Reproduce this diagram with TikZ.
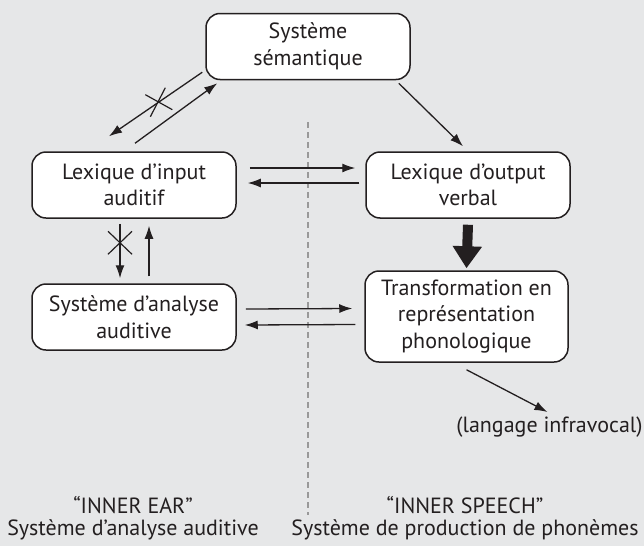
\documentclass[tikz,border=0pt]{standalone}
\usepackage{fontspec}
\setmainfont{PT Sans}
\usetikzlibrary{arrows.meta}
\definecolor{bg}{HTML}{E6E7E8}
\definecolor{ink}{HTML}{231F20}
\begin{document}
\begin{tikzpicture}[x=1pt, y=-1pt, font=\fontsize{22}{26.5}\selectfont, color=ink,
  box/.style = {shape=rectangle, rounded corners=14pt,
    draw, line width=1.5pt, align=center, fill=white,
    minimum width=204pt, minimum height=66pt, inner sep=0pt}]
    \tikzstyle{arr}=[line width=1.3pt, -{Latex[length=13pt,width=9pt]}]
    \tikzstyle{bar}=[line width=1.2pt]
  \useasboundingbox[fill=bg] (0,0) rectangle (644,546);
  % dividing line
  \coordinate (divtop) at (308,122);
  \coordinate (divbot) at (308,515);
  \draw[gray!80, line width=1.2pt, dash pattern=on 6pt off 4pt] (divtop) -- (divbot);
  % boxes
  \node[box] (sem) at (308,46.5) {Système\\sémantique};
  \node[box] (inlex) at (134,185) {Lexique d’input\\auditif};
  \node[box] (outlex) at (468,185) {Lexique d’output\\verbal};
  \node[box] (ana) at (134,317) {Système d’analyse\\auditive};
  \node[box, minimum width=203pt, minimum height=91pt] (trans) at (466.5,316.5)
    {Transformation en\\représentation\\phonologique};
  \node[anchor=east] (infra) at (646,427) {(langage infravocal)};
  \node[align=center, font=\fontsize{22}{21.5}\selectfont] (ear) at (133,518)
    {“INNER EAR”\\Système d’analyse auditive};
  \node[align=center, font=\fontsize{22}{21.5}\selectfont] (speech) at (465,518)
    {“INNER SPEECH”\\Système de production de phonèmes};
  % semantique <-> input
  \draw[arr] ([shift={(-3,-8)}]sem.south west) -- coordinate[pos=0.46] (x1)
    ([shift={(-25,-15)}]inlex.north);
  \draw[bar] ([shift={(-14,-7)}]x1) -- ([shift={(13,8)}]x1);
  \draw[bar] ([shift={(6,-14)}]x1) -- ([shift={(-9,15)}]x1);
  \draw[arr] ([shift={(1,-8)}]inlex.north) -- ([shift={(12,3)}]sem.south west);
  % semantique -> output
  \draw[arr] ([shift={(-12,3)}]sem.south east) -- ([shift={(-5,-5)}]outlex.north);
  % input <-> output
  \draw[arr] ([shift={(13,-17)}]inlex.east) -- ([shift={(-10,-17)}]outlex.west);
  \draw[arr] ([shift={(-6,-2)}]outlex.west) -- ([shift={(11,-2)}]inlex.east);
  % input <-> analyse
  \draw[arr] ([shift={(-14,5)}]inlex.south) -- coordinate[pos=0.34] (x2)
    ([shift={(-14,-5)}]ana.north);
  \draw[bar] ([shift={(-12,-11)}]x2) -- ([shift={(12,12)}]x2);
  \draw[bar] ([shift={(12,-11)}]x2) -- ([shift={(-12,12)}]x2);
  \draw[arr] ([shift={(15,-7)}]ana.north) -- ([shift={(15,7)}]inlex.south);
  % analyse <-> transformation
  \draw[arr] ([shift={(9,-8)}]ana.east) -- ([shift={(-12,-8)}]trans.west);
  \draw[arr] ([shift={(-9,8)}]trans.west) -- ([shift={(8,8)}]ana.east);
  % output => transformation
  \draw[line width=10pt, -{Triangle[length=22pt,width=28pt]}]
    ([yshift=-6pt]outlex.south) -- ([yshift=2pt]trans.north);
  % transformation -> infravocal
  \draw[arr] ([shift={(0,7)}]trans.south) -- ([shift={(-2,-15)}]infra.center);
\end{tikzpicture}
\end{document}
